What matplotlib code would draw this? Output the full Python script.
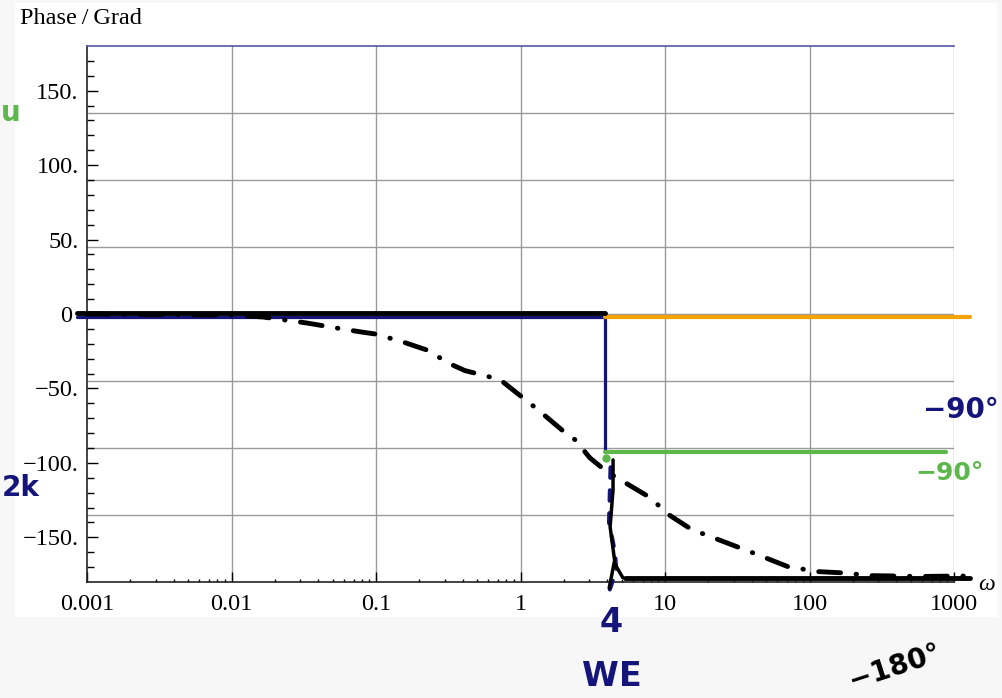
import matplotlib.pyplot as plt
from matplotlib.patches import Rectangle
from matplotlib.ticker import FixedLocator, LogLocator, NullFormatter

# Phasengang: exakter Verlauf (strichpunktiert) und Asymptoten
w_exact = [0.001, 0.01, 0.0165, 0.033, 0.054, 0.078, 0.1, 0.156, 0.222, 0.334, 0.412,
           0.72, 1.29, 1.94, 2.39, 3.02, 3.96, 7.8, 10.7, 15.2, 38.4, 70.5, 113,
           180, 254, 414, 576, 1040, 1320]
phi_exact = [0, -0.7, -2, -6, -9.5, -12, -13.5, -19, -24, -34, -38,
             -44, -63.5, -78, -84.5, -96.6, -106, -123, -135, -144.6, -159.5, -169.6, -173,
             -174, -175.7, -176, -176.3, -176, -176]

w_e = 3.85          # Eckfrequenz
w_min, w_max = 0.001, 1000
w_end = 1300

# Asymptoten der Teilsysteme
blue_w = [0.00085, w_e, w_e]
blue_phi = [-2, -2, -93]
orange_w = [w_e, w_end]
orange_phi = [-2, -2]
green_w = [w_e, 881]
green_phi = [-93, -93]

# Handskizze: Summenasymptote
sketch_top_w = [0.00085, w_e]
sketch_top_phi = [0.5, 0.5]
sketch_vert_w = [4.37, 4.37, 4.17, 4.48, 4.11]
sketch_vert_phi = [-98, -118, -143, -165.5, -184]
sketch_branch_w = [4.48, 5.1]
sketch_branch_phi = [-167.6, -177]
sketch_low_w = [5.3, w_end]
sketch_low_phi = [-177, -177]
sketch_blue_w = [4.2, 4.1, 4.5, 4.6, 4.15]
sketch_blue_phi = [-103, -140, -160, -172, -185]

y_ticks = [-150, -100, -50, 0, 50, 100, 150]
y_labels = ['\u2212150.', '\u2212100.', '\u221250.', '0 ', '50.', '100.', '150.']
x_ticks = [0.001, 0.01, 0.1, 1, 10, 100, 1000]
x_labels = ['0.001', '0.01', '0.1', '1', '10', '100', '1000']
grid_phi = [-135, -90, -45, 0, 45, 90, 135]

navy = '#14147a'
green = '#5cb84a'
orange = '#f5a300'

W, H = 1002, 698
fig = plt.figure(figsize=(W / 100, H / 100), dpi=100)
fig.patch.set_facecolor('#f7f7f7')
fig.add_artist(Rectangle((15 / W, 1 - 617 / H), 982 / W, 614 / H,
                         transform=fig.transFigure, facecolor='white',
                         edgecolor='none', zorder=0))

ax = fig.add_axes([87 / W, 1 - 582 / H, 867 / W, 536 / H])
ax.set_xscale('log')
ax.set_xlim(w_min, w_max)
ax.set_ylim(-180, 180)

serif = 'Liberation Serif'
ax.set_xticks(x_ticks)
ax.set_xticklabels(x_labels, family=serif, fontsize=17.5)
ax.xaxis.set_minor_locator(LogLocator(base=10, subs=range(2, 10)))
ax.xaxis.set_minor_formatter(NullFormatter())
ax.set_yticks(y_ticks)
ax.set_yticklabels(y_labels, family=serif, fontsize=17.5)
ax.yaxis.set_minor_locator(FixedLocator(range(-170, 180, 10)))
ax.tick_params(axis='y', which='major', direction='in', length=8, width=1, pad=6)
ax.tick_params(axis='y', which='minor', direction='in', length=5, width=1)
ax.tick_params(axis='x', which='major', direction='in', length=7, width=1, pad=9)
ax.tick_params(axis='x', which='minor', direction='in', length=2.5, width=1)

for s in ('left', 'bottom'):
    ax.spines[s].set_color('#222222')
    ax.spines[s].set_linewidth(1.2)
ax.spines['right'].set_visible(False)
ax.spines['top'].set_color('#5555aa')
ax.spines['top'].set_linewidth(1.2)

for w in x_ticks[1:]:
    ax.axvline(w, color='#9a9a9a', lw=1, zorder=1)
for p in grid_phi:
    ax.axhline(p, color='#9a9a9a', lw=1, zorder=1)

kw = dict(clip_on=False, solid_capstyle='round')
ax.plot(blue_w, blue_phi, color=navy, lw=2.3, zorder=3, **kw)
ax.plot(orange_w, orange_phi, color=orange, lw=3, zorder=3, **kw)
ax.plot(green_w, green_phi, color=green, lw=3, zorder=3, **kw)
ax.plot([w_e * 1.01], [-97], 'o', color=green, ms=5, zorder=4, clip_on=False)

ax.plot(w_exact, phi_exact, color='black', lw=3.5, zorder=4,
        linestyle=(0, (4.5, 3.2, 0.1, 3.2)), dash_capstyle='round', clip_on=False)

ax.plot(sketch_top_w, sketch_top_phi, color='black', lw=3.5, zorder=5, **kw)
ax.plot(sketch_blue_w, sketch_blue_phi, color=navy, lw=3, zorder=5,
        linestyle=(0, (2.5, 3)), dash_capstyle='round', clip_on=False)
ax.plot(sketch_vert_w, sketch_vert_phi, color='black', lw=2.5, zorder=6, **kw)
ax.plot(sketch_branch_w, sketch_branch_phi, color='black', lw=2.5, zorder=6, **kw)
ax.plot(sketch_low_w, sketch_low_phi, color='black', lw=3.5, zorder=6, **kw)

fig.text(20 / W, 1 - 18 / H, 'Phase\u2009/\u2009Grad', family=serif, fontsize=17.5,
         ha='left', va='center')
fig.text(987 / W, 1 - 584 / H, '\u03c9', family=serif, style='italic', fontsize=17,
         ha='center', va='center')

# handschriftliche Notizen
hand = dict(family='DejaVu Sans', fontweight='bold', ha='center', va='center')
fig.text(961 / W, 1 - 410 / H, '\u221290\u00b0', color=navy, fontsize=20, **hand)
fig.text(950 / W, 1 - 473 / H, '\u221290\u00b0', color=green, fontsize=18, **hand)
fig.text(611 / W, 1 - 622 / H, '4', color=navy, fontsize=24, **hand)
fig.text(612 / W, 1 - 676 / H, 'WE', color=navy, fontsize=24, **hand)
fig.text(895 / W, 1 - 667 / H, '\u2212180\u00b0', color='black', fontsize=20,
         rotation=18, **hand)
fig.text(11 / W, 1 - 113 / H, 'u', color=green, fontsize=20, **hand)
fig.text(2 / W, 1 - 488 / H, '2k', color=navy, fontsize=20, family='DejaVu Sans',
         fontweight='bold', ha='left', va='center')

fig.savefig('out.png', dpi=100)
